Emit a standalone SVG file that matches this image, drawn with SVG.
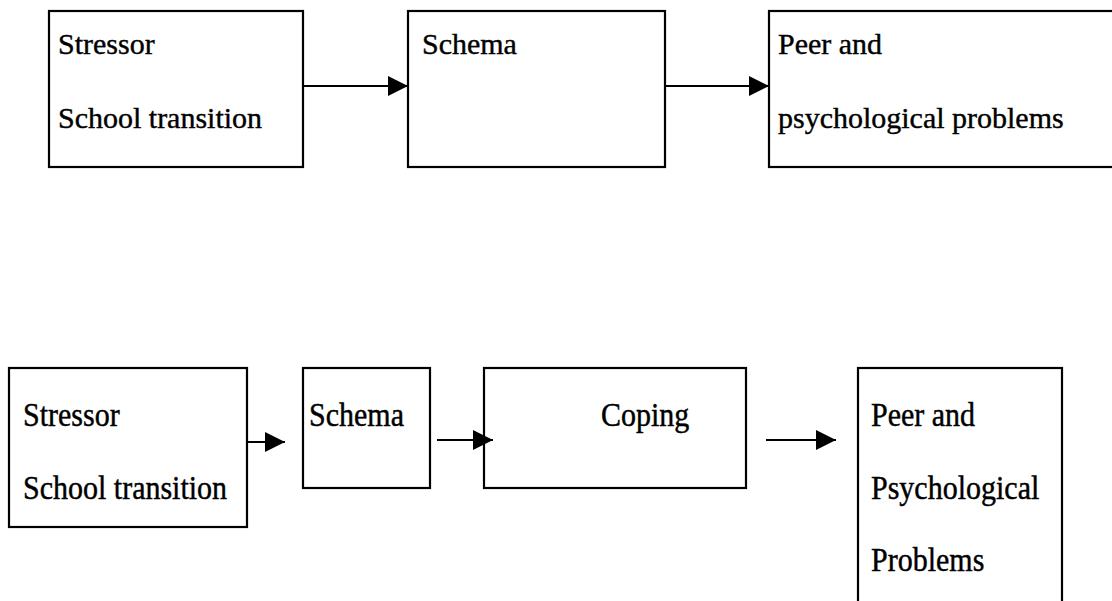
<svg xmlns="http://www.w3.org/2000/svg" width="1112" height="601" viewBox="0 0 1112 601">
<style>
.box{fill:#fff;stroke:#000;stroke-width:2.2}
.t{font-family:"Liberation Serif","Times New Roman",serif;font-size:30px;fill:#000;stroke:#000;stroke-width:0.4}
.c{stroke:#000;stroke-width:2;fill:none}
</style>
<defs>
<marker id="ah" viewBox="0 0 20 20" refX="20" refY="10" markerWidth="20" markerHeight="20" markerUnits="userSpaceOnUse" orient="auto">
<path d="M0,0 L20,10 L0,20 Z" fill="#000"/>
</marker>
</defs>
<rect width="1112" height="601" fill="#fff"/>
<g id="top-stressor">
<rect class="box" x="49" y="11" width="254" height="156"/>
<text class="t" transform="translate(58,54) scale(1,0.95)">Stressor</text>
<text class="t" transform="translate(58,128) scale(1,0.95)">School transition</text>
</g>
<g id="top-schema">
<rect class="box" x="408" y="11" width="257" height="156"/>
<text class="t" transform="translate(422,54) scale(1,0.95)">Schema</text>
</g>
<g id="top-peer">
<rect class="box" x="769" y="11" width="360" height="156"/>
<text class="t" transform="translate(778,54) scale(1,0.95)">Peer and</text>
<text class="t" transform="translate(778,128) scale(1,0.95)">psychological problems</text>
</g>
<g id="bot-stressor">
<rect class="box" x="9" y="368" width="238" height="159"/>
<text class="t" transform="translate(23,426) scale(1,1.12)">Stressor</text>
<text class="t" transform="translate(23,499) scale(1,1.12)">School transition</text>
</g>
<g id="bot-schema">
<rect class="box" x="303" y="368" width="127" height="120"/>
<text class="t" transform="translate(309,426) scale(1,1.12)">Schema</text>
</g>
<g id="bot-coping">
<rect class="box" x="484" y="368" width="262" height="120"/>
<text class="t" transform="translate(601,426) scale(1,1.12)">Coping</text>
</g>
<g id="bot-peer">
<rect class="box" x="858" y="368" width="204" height="260"/>
<text class="t" transform="translate(871,426) scale(1,1.12)">Peer and</text>
<text class="t" transform="translate(871,499) scale(1,1.12)">Psychological</text>
<text class="t" transform="translate(871,571) scale(1,1.12)">Problems</text>
</g>
<g id="connectors">
<line class="c" x1="303" y1="86" x2="408" y2="86" marker-end="url(#ah)"/>
<line class="c" x1="665" y1="86" x2="769" y2="86" marker-end="url(#ah)"/>
<line class="c" x1="247" y1="442" x2="285" y2="442" marker-end="url(#ah)"/>
<line class="c" x1="437" y1="440" x2="493" y2="440" marker-end="url(#ah)"/>
<line class="c" x1="766" y1="440" x2="836" y2="440" marker-end="url(#ah)"/>
</g>
</svg>
